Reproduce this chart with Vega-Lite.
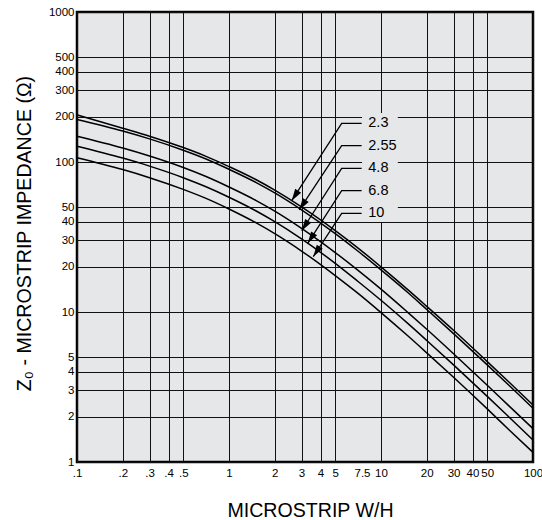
{
  "$schema": "https://vega.github.io/schema/vega-lite/v6.json",
  "width": 456,
  "height": 450,
  "autosize": {"type": "none"},
  "padding": {"left": 77, "top": 12, "right": 9, "bottom": 58},
  "background": "white",
  "config": {
    "font": "Liberation Sans",
    "view": {"fill": "#e6e7e8", "stroke": "#000000", "strokeWidth": 2.5}
  },
  "datasets": {
    "curves": [
      {"er": "2.3", "wh": 0.1, "z0": 206}, {"er": "2.3", "wh": 0.2, "z0": 168}, {"er": "2.3", "wh": 0.3, "z0": 148.6}, {"er": "2.3", "wh": 0.5, "z0": 124.8}, {"er": "2.3", "wh": 0.7, "z0": 109.5}, {"er": "2.3", "wh": 1, "z0": 93.2}, {"er": "2.3", "wh": 1.5, "z0": 76.4}, {"er": "2.3", "wh": 2, "z0": 64.9}, {"er": "2.3", "wh": 3, "z0": 50.2}, {"er": "2.3", "wh": 5, "z0": 34.9}, {"er": "2.3", "wh": 7, "z0": 26.9}, {"er": "2.3", "wh": 10, "z0": 20.0}, {"er": "2.3", "wh": 15, "z0": 14.1}, {"er": "2.3", "wh": 20, "z0": 10.9}, {"er": "2.3", "wh": 30, "z0": 7.55}, {"er": "2.3", "wh": 50, "z0": 4.67}, {"er": "2.3", "wh": 70, "z0": 3.39}, {"er": "2.3", "wh": 100, "z0": 2.4},
      {"er": "2.55", "wh": 0.1, "z0": 192.3}, {"er": "2.55", "wh": 0.2, "z0": 160.9}, {"er": "2.55", "wh": 0.3, "z0": 142.6}, {"er": "2.55", "wh": 0.5, "z0": 119.8}, {"er": "2.55", "wh": 0.7, "z0": 105.1}, {"er": "2.55", "wh": 1, "z0": 89.4}, {"er": "2.55", "wh": 1.5, "z0": 73.2}, {"er": "2.55", "wh": 2, "z0": 62.2}, {"er": "2.55", "wh": 3, "z0": 48.0}, {"er": "2.55", "wh": 5, "z0": 33.3}, {"er": "2.55", "wh": 7, "z0": 25.6}, {"er": "2.55", "wh": 10, "z0": 19.1}, {"er": "2.55", "wh": 15, "z0": 13.5}, {"er": "2.55", "wh": 20, "z0": 10.4}, {"er": "2.55", "wh": 30, "z0": 7.18}, {"er": "2.55", "wh": 50, "z0": 4.44}, {"er": "2.55", "wh": 70, "z0": 3.22}, {"er": "2.55", "wh": 100, "z0": 2.28},
      {"er": "4.8", "wh": 0.1, "z0": 148.5}, {"er": "4.8", "wh": 0.2, "z0": 123.9}, {"er": "4.8", "wh": 0.3, "z0": 109.6}, {"er": "4.8", "wh": 0.5, "z0": 91.9}, {"er": "4.8", "wh": 0.7, "z0": 80.3}, {"er": "4.8", "wh": 1, "z0": 68.1}, {"er": "4.8", "wh": 1.5, "z0": 55.5}, {"er": "4.8", "wh": 2, "z0": 47.0}, {"er": "4.8", "wh": 3, "z0": 36.1}, {"er": "4.8", "wh": 5, "z0": 24.9}, {"er": "4.8", "wh": 7, "z0": 19.1}, {"er": "4.8", "wh": 10, "z0": 14.2}, {"er": "4.8", "wh": 15, "z0": 9.94}, {"er": "4.8", "wh": 20, "z0": 7.67}, {"er": "4.8", "wh": 30, "z0": 5.27}, {"er": "4.8", "wh": 50, "z0": 3.25}, {"er": "4.8", "wh": 70, "z0": 2.35}, {"er": "4.8", "wh": 100, "z0": 1.67},
      {"er": "6.8", "wh": 0.1, "z0": 127.4}, {"er": "6.8", "wh": 0.2, "z0": 106.2}, {"er": "6.8", "wh": 0.3, "z0": 93.9}, {"er": "6.8", "wh": 0.5, "z0": 78.6}, {"er": "6.8", "wh": 0.7, "z0": 68.6}, {"er": "6.8", "wh": 1, "z0": 58.2}, {"er": "6.8", "wh": 1.5, "z0": 47.3}, {"er": "6.8", "wh": 2, "z0": 40.0}, {"er": "6.8", "wh": 3, "z0": 30.7}, {"er": "6.8", "wh": 5, "z0": 21.1}, {"er": "6.8", "wh": 7, "z0": 16.1}, {"er": "6.8", "wh": 10, "z0": 11.97}, {"er": "6.8", "wh": 15, "z0": 8.39}, {"er": "6.8", "wh": 20, "z0": 6.46}, {"er": "6.8", "wh": 30, "z0": 4.44}, {"er": "6.8", "wh": 50, "z0": 2.74}, {"er": "6.8", "wh": 70, "z0": 1.98}, {"er": "6.8", "wh": 100, "z0": 1.4},
      {"er": "10", "wh": 0.1, "z0": 106.9}, {"er": "10", "wh": 0.2, "z0": 89.0}, {"er": "10", "wh": 0.3, "z0": 78.6}, {"er": "10", "wh": 0.5, "z0": 65.7}, {"er": "10", "wh": 0.7, "z0": 57.4}, {"er": "10", "wh": 1, "z0": 48.6}, {"er": "10", "wh": 1.5, "z0": 39.4}, {"er": "10", "wh": 2, "z0": 33.3}, {"er": "10", "wh": 3, "z0": 25.5}, {"er": "10", "wh": 5, "z0": 17.5}, {"er": "10", "wh": 7, "z0": 13.4}, {"er": "10", "wh": 10, "z0": 9.91}, {"er": "10", "wh": 15, "z0": 6.94}, {"er": "10", "wh": 20, "z0": 5.34}, {"er": "10", "wh": 30, "z0": 3.67}, {"er": "10", "wh": 50, "z0": 2.26}, {"er": "10", "wh": 70, "z0": 1.63}, {"er": "10", "wh": 100, "z0": 1.16}
    ],
    "leaders": [
      {"er": "2.3", "pt": 1, "wh": 2.585, "z0": 55.2}, {"er": "2.3", "pt": 2, "wh": 5.51, "z0": 181.1}, {"er": "2.3", "pt": 3, "wh": 7.46, "z0": 181.1},
      {"er": "2.55", "pt": 1, "wh": 2.9, "z0": 47.9}, {"er": "2.55", "pt": 2, "wh": 5.51, "z0": 128.5}, {"er": "2.55", "pt": 3, "wh": 7.46, "z0": 128.5},
      {"er": "4.8", "pt": 1, "wh": 3.008, "z0": 34.8}, {"er": "4.8", "pt": 2, "wh": 5.51, "z0": 90.8}, {"er": "4.8", "pt": 3, "wh": 7.46, "z0": 90.8},
      {"er": "6.8", "pt": 1, "wh": 3.294, "z0": 28.7}, {"er": "6.8", "pt": 2, "wh": 5.51, "z0": 64.4}, {"er": "6.8", "pt": 3, "wh": 7.46, "z0": 64.4},
      {"er": "10", "pt": 1, "wh": 3.586, "z0": 23.4}, {"er": "10", "pt": 2, "wh": 5.51, "z0": 45.5}, {"er": "10", "pt": 3, "wh": 7.46, "z0": 45.5}
    ],
    "labels": [
      {"er": "2.3", "wh": 8.25, "z0": 181.1},
      {"er": "2.55", "wh": 8.25, "z0": 128.5},
      {"er": "4.8", "wh": 8.25, "z0": 90.8},
      {"er": "6.8", "wh": 8.25, "z0": 64.4},
      {"er": "10", "wh": 8.25, "z0": 45.5}
    ],
    "mask": [{"wh": 7.5, "wh2": 12.9, "z0": 39.8, "z02": 212}]
  },
  "layer": [
    {
      "data": {"name": "mask"},
      "mark": {"type": "rect", "fill": "#e6e7e8"},
      "encoding": {
        "x": {"field": "wh", "type": "quantitative", "scale": {"type": "log", "domain": [0.1, 100], "nice": false},
          "axis": {
            "title": "MICROSTRIP W/H",
            "values": [0.1, 0.2, 0.3, 0.4, 0.5, 1, 2, 3, 4, 5, 7.5, 10, 20, 30, 40, 50, 100],
            "labelExpr": "datum.value < 1 ? replace(format(datum.value, '.1f'), '0.', '.') : format(datum.value, '')",
            "labelOverlap": false,
            "labelFlush": false,
            "labelFontSize": 11.5,
            "labelColor": "#000",
            "labelPadding": 5,
            "ticks": false,
            "domain": false,
            "grid": true,
            "gridColor": "#111",
            "gridWidth": 1,
            "gridOpacity": {"condition": {"test": "datum.value == 7.5", "value": 0}, "value": 1},
            "titleFontSize": 19.6,
            "titleFontWeight": "normal",
            "titleColor": "#000",
            "titleX": 233,
            "titleY": 48,
            "titleAlign": "center",
            "titleBaseline": "middle"
          }
        },
        "x2": {"field": "wh2"},
        "y": {"field": "z0", "type": "quantitative", "scale": {"type": "log", "domain": [1, 1000], "nice": false},
          "axis": {
            "title": "Z₀ - MICROSTRIP IMPEDANCE (Ω)",
            "values": [1, 2, 3, 4, 5, 10, 20, 30, 40, 50, 100, 200, 300, 400, 500, 1000],
            "format": "d",
            "labelOverlap": false,
            "labelFlush": false,
            "labelFontSize": 11.5,
            "labelColor": "#000",
            "labelPadding": 3,
            "ticks": false,
            "domain": false,
            "grid": true,
            "gridColor": "#111",
            "gridWidth": 1,
            "titleFontSize": 19.6,
            "titleFontWeight": "normal",
            "titleColor": "#000",
            "titleAngle": -90,
            "titleX": -53,
            "titleY": 221,
            "titleAlign": "center",
            "titleBaseline": "middle"
          }
        },
        "y2": {"field": "z02"}
      }
    },
    {
      "data": {"name": "curves"},
      "mark": {"type": "line", "color": "#000", "strokeWidth": 1.5, "interpolate": "monotone"},
      "encoding": {
        "x": {"field": "wh", "type": "quantitative"},
        "y": {"field": "z0", "type": "quantitative"},
        "detail": {"field": "er"}
      }
    },
    {
      "data": {"name": "leaders"},
      "mark": {"type": "line", "color": "#000", "strokeWidth": 1.3},
      "encoding": {
        "x": {"field": "wh", "type": "quantitative"},
        "y": {"field": "z0", "type": "quantitative"},
        "detail": {"field": "er"},
        "order": {"field": "pt"}
      }
    },
    {
      "data": {"name": "leaders"},
      "transform": [{"filter": "datum.pt == 1"}],
      "mark": {"type": "point", "shape": "M0,0 L-0.3,1 L0.3,1 Z", "filled": true, "color": "#000", "opacity": 1, "size": 560, "angle": 213},
      "encoding": {
        "x": {"field": "wh", "type": "quantitative"},
        "y": {"field": "z0", "type": "quantitative"}
      }
    },
    {
      "data": {"name": "labels"},
      "mark": {"type": "text", "align": "left", "baseline": "middle", "fontSize": 14.5, "color": "#000"},
      "encoding": {
        "x": {"field": "wh", "type": "quantitative"},
        "y": {"field": "z0", "type": "quantitative"},
        "text": {"field": "er"}
      }
    }
  ]
}
